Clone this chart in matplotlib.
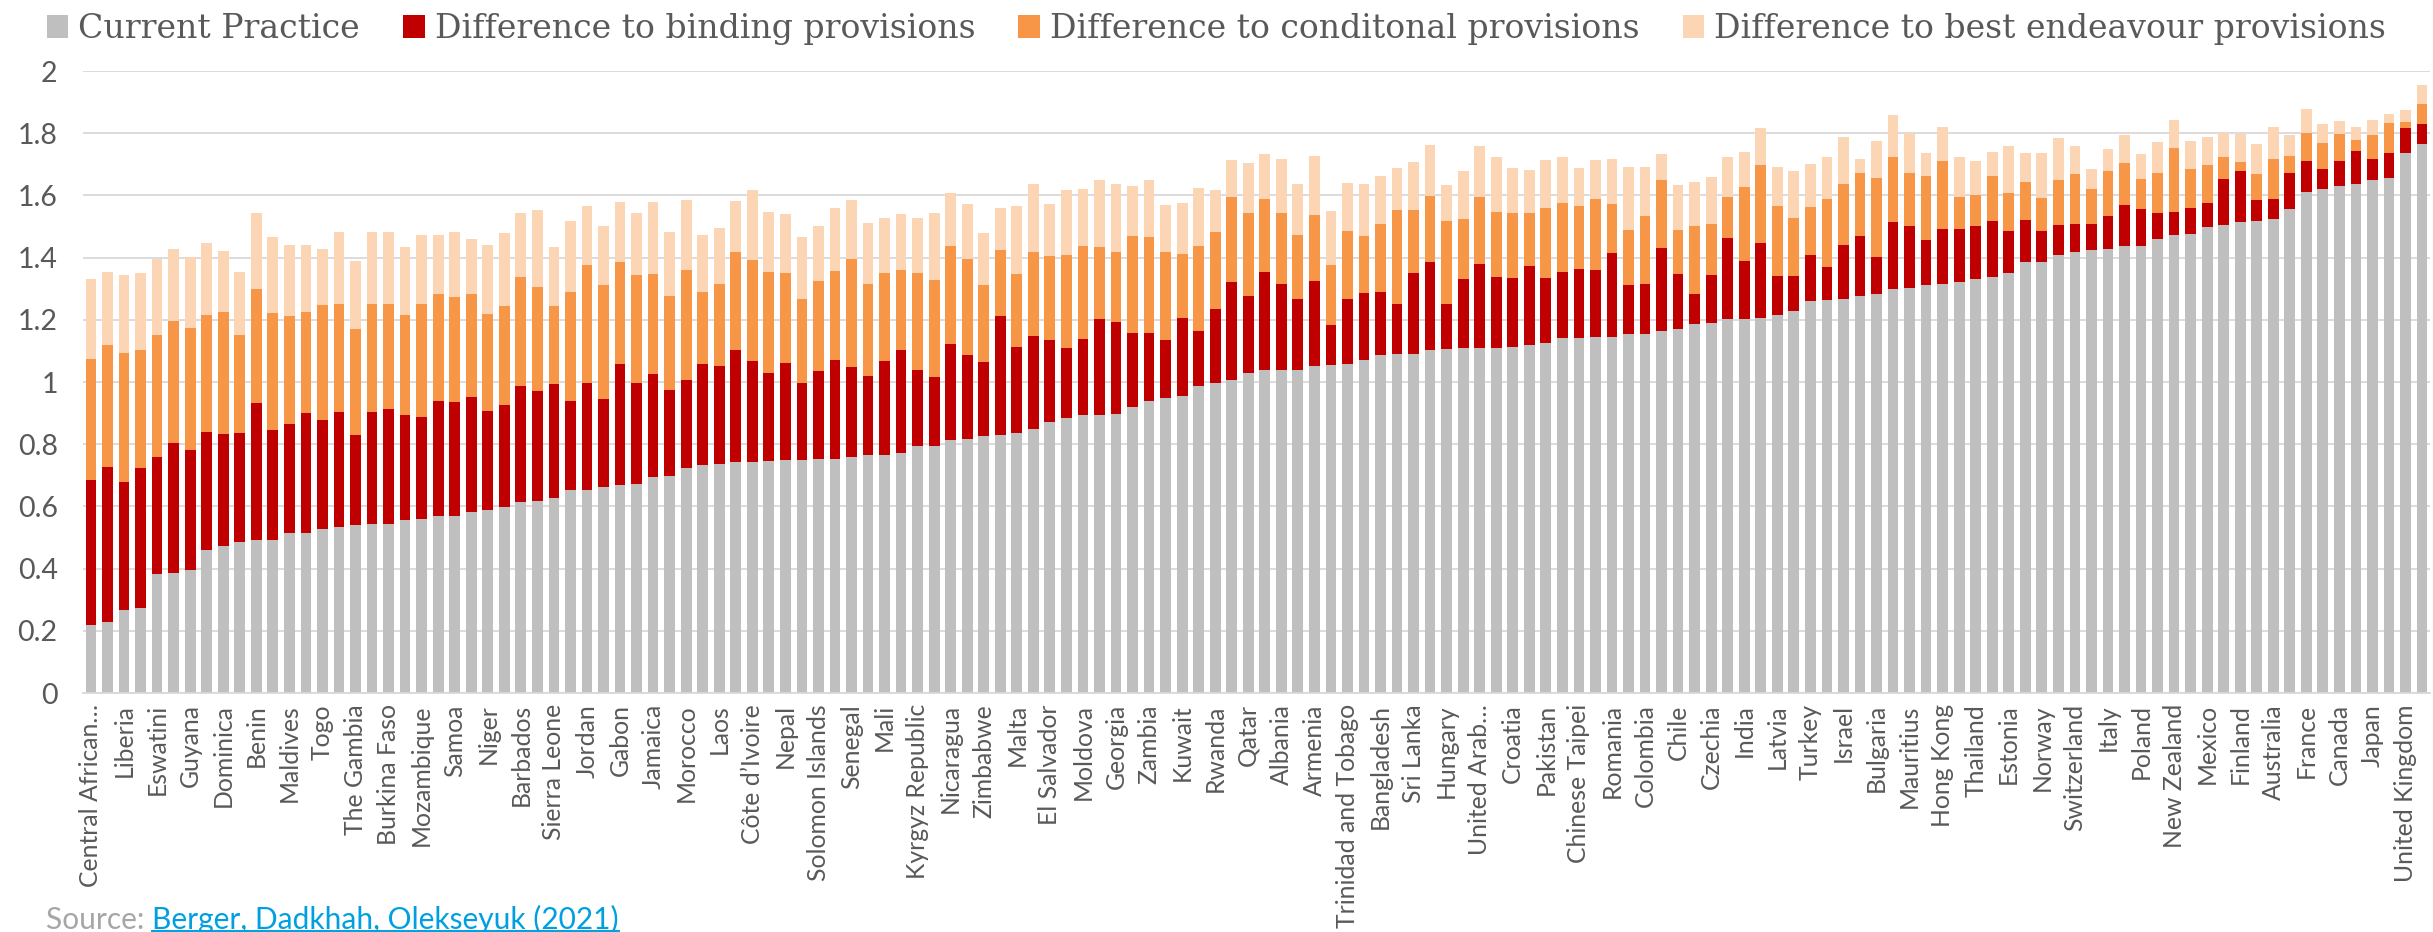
import numpy as np
import matplotlib.pyplot as plt
from matplotlib.lines import Line2D
from matplotlib.patches import Patch

# every second bar carries a label (Excel skipped the others)
tick_labels = [
    'Central African…', 'Liberia', 'Eswatini', 'Guyana', 'Dominica', 'Benin',
    'Maldives', 'Togo', 'The Gambia', 'Burkina Faso', 'Mozambique', 'Samoa',
    'Niger', 'Barbados', 'Sierra Leone', 'Jordan', 'Gabon', 'Jamaica',
    'Morocco', 'Laos', 'Côte d’Ivoire', 'Nepal', 'Solomon Islands', 'Senegal',
    'Mali', 'Kyrgyz Republic', 'Nicaragua', 'Zimbabwe', 'Malta', 'El Salvador',
    'Moldova', 'Georgia', 'Zambia', 'Kuwait', 'Rwanda', 'Qatar',
    'Albania', 'Armenia', 'Trinidad and Tobago', 'Bangladesh', 'Sri Lanka', 'Hungary',
    'United Arab…', 'Croatia', 'Pakistan', 'Chinese Taipei', 'Romania', 'Colombia',
    'Chile', 'Czechia', 'India', 'Latvia', 'Turkey', 'Israel',
    'Bulgaria', 'Mauritius', 'Hong Kong', 'Thailand', 'Estonia', 'Norway',
    'Switzerland', 'Italy', 'Poland', 'New Zealand', 'Mexico', 'Finland',
    'Australia', 'France', 'Canada', 'Japan', 'United Kingdom',
]

current = np.array([
    0.220, 0.228, 0.266, 0.272, 0.383, 0.385, 0.395, 0.461, 0.474, 0.485, 0.493,
    0.493, 0.513, 0.516, 0.526, 0.533, 0.541, 0.542, 0.544, 0.555, 0.558, 0.569, 0.569,
    0.583, 0.587, 0.598, 0.614, 0.617, 0.628, 0.652, 0.652, 0.662, 0.670, 0.671, 0.695,
    0.699, 0.725, 0.734, 0.737, 0.744, 0.744, 0.747, 0.748, 0.750, 0.751, 0.753, 0.760,
    0.765, 0.765, 0.771, 0.793, 0.795, 0.814, 0.818, 0.826, 0.830, 0.835, 0.848, 0.870,
    0.884, 0.893, 0.894, 0.898, 0.921, 0.938, 0.949, 0.954, 0.987, 0.996, 1.005, 1.030,
    1.039, 1.039, 1.039, 1.050, 1.055, 1.058, 1.072, 1.088, 1.089, 1.090, 1.104,
    1.107, 1.110, 1.110, 1.111, 1.114, 1.120, 1.127, 1.142, 1.142, 1.144, 1.144, 1.153,
    1.156, 1.163, 1.169, 1.187, 1.190, 1.203, 1.203, 1.205, 1.217, 1.229, 1.259, 1.264,
    1.267, 1.275, 1.284, 1.299, 1.301, 1.313, 1.315, 1.322, 1.330, 1.337, 1.350, 1.386,
    1.386, 1.409, 1.418, 1.425, 1.428, 1.437, 1.437, 1.460, 1.473, 1.477, 1.497, 1.504,
    1.514, 1.519, 1.523, 1.556, 1.610, 1.620, 1.631, 1.638, 1.651, 1.655, 1.735, 1.765,
])

# score reached with binding / conditional / best endeavour provisions (read as bar tops)
binding_level = np.array([
    0.684, 0.727, 0.678, 0.723, 0.760, 0.804, 0.782, 0.840, 0.833, 0.837, 0.933,
    0.847, 0.866, 0.901, 0.877, 0.904, 0.830, 0.903, 0.914, 0.893, 0.889, 0.940, 0.935,
    0.952, 0.908, 0.925, 0.987, 0.970, 0.995, 0.939, 0.998, 0.947, 1.057, 0.998, 1.025,
    0.973, 1.005, 1.057, 1.050, 1.102, 1.068, 1.029, 1.060, 0.998, 1.034, 1.071, 1.047,
    1.018, 1.069, 1.102, 1.040, 1.016, 1.123, 1.086, 1.065, 1.211, 1.114, 1.148, 1.134,
    1.111, 1.137, 1.203, 1.194, 1.159, 1.159, 1.134, 1.205, 1.163, 1.236, 1.322, 1.277,
    1.354, 1.316, 1.267, 1.324, 1.184, 1.267, 1.285, 1.289, 1.250, 1.351, 1.386,
    1.252, 1.331, 1.379, 1.337, 1.333, 1.374, 1.334, 1.355, 1.364, 1.361, 1.416, 1.312,
    1.315, 1.432, 1.348, 1.282, 1.343, 1.462, 1.390, 1.448, 1.340, 1.340, 1.410, 1.371,
    1.439, 1.470, 1.403, 1.514, 1.502, 1.458, 1.491, 1.491, 1.501, 1.519, 1.484, 1.521,
    1.484, 1.505, 1.508, 1.508, 1.535, 1.568, 1.556, 1.545, 1.547, 1.559, 1.577, 1.654,
    1.679, 1.584, 1.588, 1.671, 1.710, 1.685, 1.710, 1.742, 1.718, 1.735, 1.816, 1.829,
])

conditional_level = np.array([
    1.075, 1.118, 1.093, 1.102, 1.151, 1.196, 1.173, 1.215, 1.224, 1.151, 1.299,
    1.221, 1.212, 1.225, 1.247, 1.250, 1.172, 1.250, 1.250, 1.215, 1.250, 1.282, 1.274,
    1.282, 1.218, 1.245, 1.337, 1.305, 1.245, 1.289, 1.375, 1.312, 1.386, 1.344, 1.347,
    1.277, 1.361, 1.289, 1.316, 1.418, 1.393, 1.354, 1.350, 1.267, 1.324, 1.357, 1.396,
    1.315, 1.352, 1.361, 1.351, 1.327, 1.438, 1.395, 1.312, 1.425, 1.348, 1.418, 1.406,
    1.409, 1.438, 1.435, 1.417, 1.469, 1.467, 1.417, 1.411, 1.437, 1.483, 1.596, 1.543,
    1.589, 1.542, 1.474, 1.537, 1.376, 1.487, 1.470, 1.508, 1.552, 1.554, 1.599,
    1.519, 1.525, 1.596, 1.547, 1.545, 1.542, 1.560, 1.577, 1.567, 1.588, 1.574, 1.490,
    1.535, 1.650, 1.488, 1.501, 1.507, 1.595, 1.627, 1.697, 1.567, 1.528, 1.563, 1.588,
    1.638, 1.673, 1.655, 1.725, 1.672, 1.662, 1.711, 1.595, 1.602, 1.661, 1.608, 1.643,
    1.592, 1.651, 1.668, 1.622, 1.680, 1.703, 1.654, 1.671, 1.752, 1.685, 1.697, 1.724,
    1.707, 1.668, 1.718, 1.728, 1.800, 1.767, 1.798, 1.779, 1.794, 1.832, 1.836, 1.893,
])

best_level = np.array([
    1.331, 1.355, 1.344, 1.352, 1.395, 1.427, 1.403, 1.446, 1.420, 1.354, 1.543,
    1.467, 1.442, 1.441, 1.428, 1.481, 1.389, 1.481, 1.481, 1.434, 1.473, 1.473, 1.481,
    1.460, 1.439, 1.479, 1.545, 1.552, 1.435, 1.519, 1.566, 1.502, 1.578, 1.543, 1.578,
    1.481, 1.584, 1.473, 1.495, 1.582, 1.616, 1.546, 1.540, 1.467, 1.502, 1.560, 1.585,
    1.511, 1.529, 1.539, 1.528, 1.545, 1.608, 1.571, 1.479, 1.560, 1.566, 1.636, 1.573,
    1.619, 1.622, 1.651, 1.638, 1.631, 1.651, 1.570, 1.577, 1.623, 1.617, 1.714, 1.704,
    1.732, 1.717, 1.637, 1.727, 1.549, 1.640, 1.636, 1.662, 1.689, 1.707, 1.762,
    1.634, 1.679, 1.758, 1.725, 1.689, 1.683, 1.713, 1.724, 1.689, 1.715, 1.717, 1.692,
    1.690, 1.732, 1.633, 1.643, 1.659, 1.725, 1.739, 1.818, 1.690, 1.678, 1.701, 1.722,
    1.788, 1.717, 1.774, 1.860, 1.800, 1.735, 1.821, 1.724, 1.711, 1.739, 1.758, 1.735,
    1.738, 1.784, 1.760, 1.686, 1.748, 1.793, 1.732, 1.773, 1.844, 1.776, 1.787, 1.800,
    1.797, 1.765, 1.819, 1.794, 1.879, 1.829, 1.839, 1.819, 1.843, 1.863, 1.874, 1.954,
])

series_names = ['Current Practice', 'Difference to binding provisions',
                'Difference to conditonal provisions', 'Difference to best endeavour provisions']
colors = ['#BFBFBF', '#C00000', '#F79646', '#FCD5B4']
text_grey = '#595959'
sans = ['Lato', 'DejaVu Sans']
serif = ['DejaVu Serif']

n = len(current)
x = np.arange(n)
width = 0.65

fig = plt.figure(figsize=(24.33, 9.32), dpi=100)
ax = fig.add_axes([0.034, 0.2564, 0.9649, 0.6674])

ax.bar(x, current, width, color=colors[0], zorder=2)
ax.bar(x, binding_level - current, width, bottom=current, color=colors[1], zorder=2)
ax.bar(x, conditional_level - binding_level, width, bottom=binding_level, color=colors[2], zorder=2)
ax.bar(x, best_level - conditional_level, width, bottom=conditional_level, color=colors[3], zorder=2)

ax.set_xlim(-0.5, n - 0.5)
ax.set_ylim(0, 2)
yt = np.arange(0, 2.01, 0.2)
ax.set_yticks(yt)
ax.set_yticklabels([f'{v:g}' for v in np.round(yt, 1)], family=sans, fontsize=20.5, color=text_grey)
ax.set_xticks(x[::2])
ax.set_xticklabels(tick_labels, rotation=90, family=sans, fontsize=17.8, color=text_grey)
ax.tick_params(axis='y', length=0, pad=18)
ax.tick_params(axis='x', length=0, pad=8)

ax.yaxis.grid(True, color='#D9D9D9', lw=1.3, zorder=0)
ax.set_axisbelow(True)
for s in ['left', 'right', 'top']:
    ax.spines[s].set_visible(False)
ax.spines['bottom'].set_color('#D9D9D9')
ax.spines['bottom'].set_linewidth(1.3)

handles = [Patch(facecolor=c, edgecolor='none') for c in colors]
fig.legend(handles, series_names, loc='upper center', bbox_to_anchor=(0.5, 1.018),
           ncol=4, frameon=False, prop={'family': serif, 'size': 23.9},
           handlelength=0.65, handleheight=0.65, handletextpad=0.3,
           columnspacing=1.3, labelcolor=text_grey)

# source line with underlined link
src = fig.text(0.019, 0.013, 'Source: ', family=sans, fontsize=21.5, color='#A6A6A6', va='center')
fig.canvas.draw()
r = fig.canvas.get_renderer()
W, H = fig.bbox.width, fig.bbox.height
bb = src.get_window_extent(r)
link = fig.text(bb.x1 / W, 0.013, 'Berger, Dadkhah, Olekseyuk (2021)', family=sans,
                fontsize=21.5, color='#00A0E0', va='center')
bb2 = link.get_window_extent(r)
fig.add_artist(Line2D([bb2.x0 / W, bb2.x1 / W], [(bb2.y0 + 3) / H] * 2,
                      color='#00A0E0', lw=1.4))

fig.savefig('out.png', dpi=100)
